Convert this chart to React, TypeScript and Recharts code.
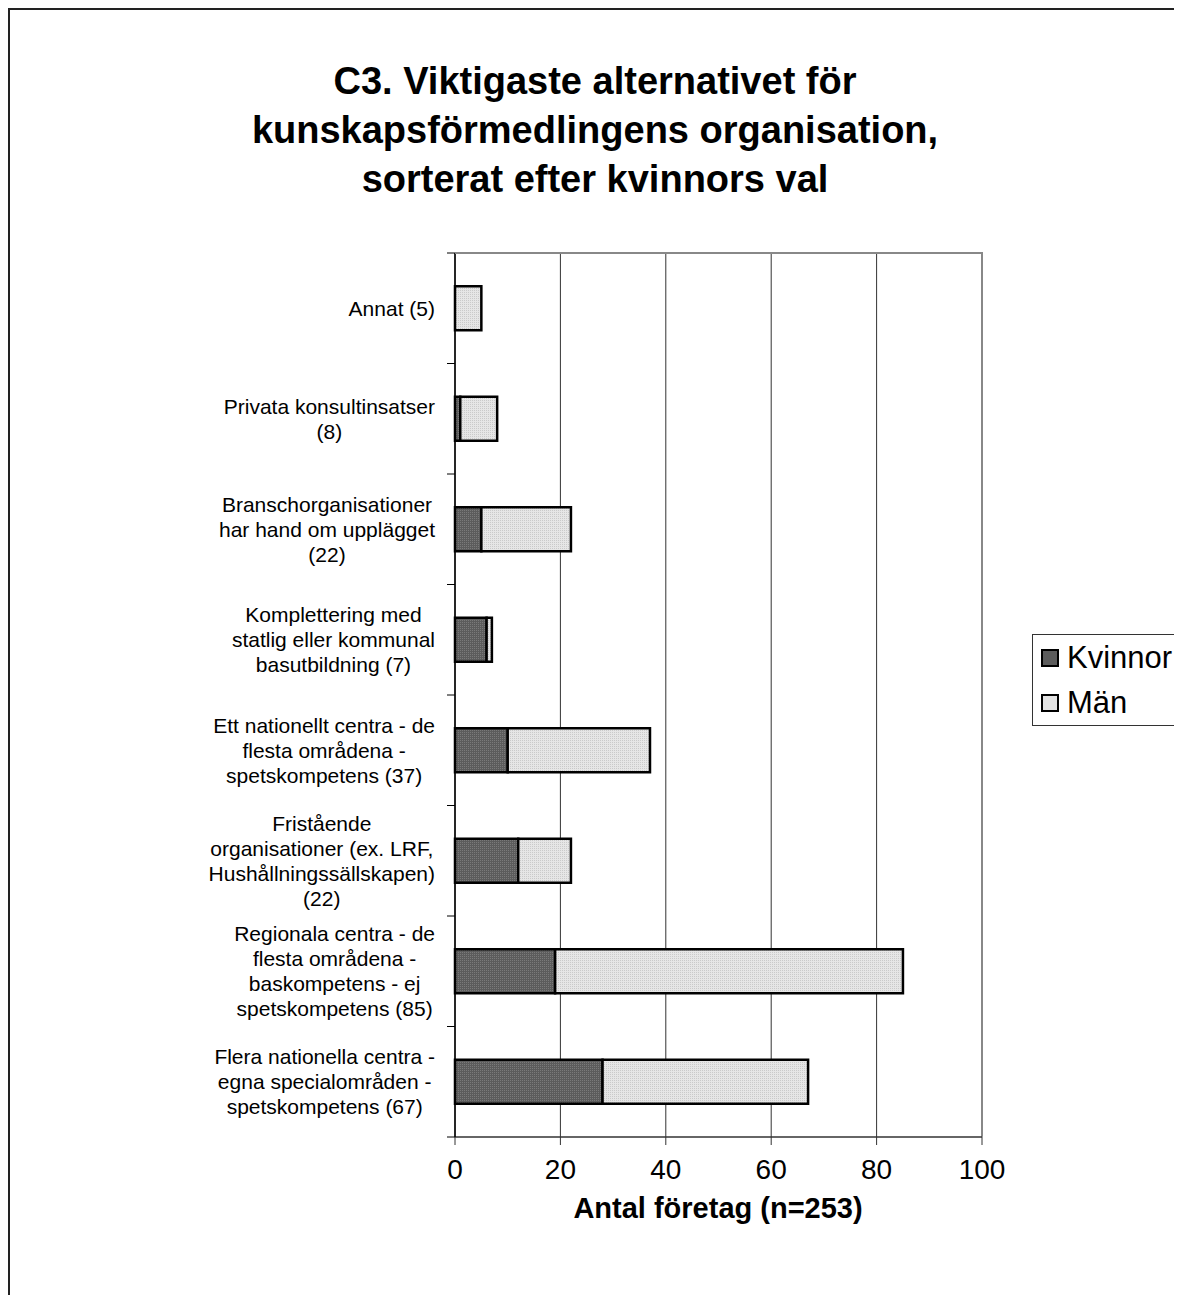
import { BarChart, Bar, XAxis, YAxis, CartesianGrid } from 'recharts'

const categories = [
  'Annat (5)',
  'Privata konsultinsatser\n(8)',
  'Branschorganisationer\nhar hand om upplägget\n(22)',
  'Komplettering med\nstatlig eller kommunal\nbasutbildning (7)',
  'Ett nationellt centra - de\nflesta områdena -\nspetskompetens (37)',
  'Fristående\norganisationer (ex. LRF,\nHushållningssällskapen)\n(22)',
  'Regionala centra - de\nflesta områdena -\nbaskompetens - ej\nspetskompetens (85)',
  'Flera nationella centra -\negna specialområden -\nspetskompetens (67)',
]
const kvinnor = [0, 1, 5, 6, 10, 12, 19, 28]
const man = [5, 7, 17, 1, 27, 10, 66, 39]
const xTicks = [0, 20, 40, 60, 80, 100]

const data = categories.map((name, i) => ({ name, kvinnor: kvinnor[i], man: man[i] }))

const W = 1174
const H = 1295
const PLOT_LEFT = 447
const PLOT_TOP = 245
const PLOT_BOTTOM = 1129
const PLOT_RIGHT = 974
const BAND = (PLOT_BOTTOM - PLOT_TOP) / categories.length
const FONT = '"Liberation Sans", Arial, sans-serif'
const LABEL_SIZE = 21

let ctx: CanvasRenderingContext2D | null = null
function textWidth(s: string) {
  if (!ctx) {
    ctx = document.createElement('canvas').getContext('2d')
    if (ctx) ctx.font = `${LABEL_SIZE}px "Liberation Sans"`
  }
  return ctx ? ctx.measureText(s).width : s.length * LABEL_SIZE * 0.5
}

function CategoryTick(props: any) {
  const { x, y, payload, index } = props
  const lines: string[] = String(payload.value).split('\n')
  const maxW = Math.max(...lines.map(textWidth))
  const cx = x - 20 - maxW / 2
  const lh = 25
  const y0 = y - ((lines.length - 1) * lh) / 2
  return (
    <g>
      <line x1={x - 8} x2={x} y1={y + BAND / 2} y2={y + BAND / 2} stroke="#000" strokeWidth={1} />
      {index === 0 && <line x1={x - 8} x2={x} y1={y - BAND / 2} y2={y - BAND / 2} stroke="#000" strokeWidth={1} />}
      <text textAnchor="middle" fontSize={LABEL_SIZE} fontFamily={FONT} fill="#000">
        {lines.map((l, i) => (
          <tspan key={i} x={cx} y={y0 + i * lh} dy="0.35em">
            {l}
          </tspan>
        ))}
      </text>
    </g>
  )
}

export default function App() {
  return (
    <div style={{ position: 'relative', width: W, height: H, overflow: 'hidden', marginBottom: -8, fontFamily: FONT }}>
      <div
        style={{
          position: 'absolute',
          left: 0,
          top: 0,
          width: W + 100,
          height: H + 100,
          borderLeft: '2px solid #222',
          borderTop: '2px solid #222',
          boxSizing: 'border-box',
        }}
      />
      <div
        style={{
          position: 'absolute',
          left: 0,
          top: 49,
          width: W,
          textAlign: 'center',
          fontWeight: 'bold',
          fontSize: 38,
          lineHeight: '49px',
          color: '#000',
        }}
      >
        C3. Viktigaste alternativet för
        <br />
        kunskapsförmedlingens organisation,
        <br />
        sorterat efter kvinnors val
      </div>
      <BarChart
        width={W}
        height={H}
        data={data}
        layout="vertical"
        margin={{ top: PLOT_TOP, right: W - PLOT_RIGHT, bottom: H - PLOT_BOTTOM - 60, left: 0 }}
        barCategoryGap="30%"
        style={{ position: 'absolute', left: 0, top: 0 }}
      >
        <defs>
          <pattern id="darkFill" width="2" height="2" patternUnits="userSpaceOnUse">
            <rect width="2" height="2" fill="#5c5c5c" />
            <rect width="1" height="1" fill="#7a7a7a" />
          </pattern>
          <pattern id="lightFill" width="2" height="2" patternUnits="userSpaceOnUse">
            <rect width="2" height="2" fill="#e6e6e6" />
            <rect width="1" height="1" fill="#cacaca" />
          </pattern>
        </defs>
        <CartesianGrid horizontal={false} stroke="#333" strokeWidth={1} />
        <XAxis
          type="number"
          domain={[0, 100]}
          ticks={xTicks}
          height={60}
          tickSize={8}
          tickMargin={14}
          axisLine={{ stroke: '#333', strokeWidth: 1.5 }}
          tickLine={{ stroke: '#333' }}
          tick={{ fontSize: 28, fill: '#000', fontFamily: FONT }}
        />
        <YAxis
          type="category"
          dataKey="name"
          width={PLOT_LEFT}
          tickSize={0}
          tickMargin={0}
          tickLine={false}
          interval={0}
          axisLine={{ stroke: '#000', strokeWidth: 1.5 }}
          tick={<CategoryTick />}
        />
        <Bar dataKey="kvinnor" stackId="a" fill="url(#darkFill)" stroke="#000" strokeWidth={2.5} isAnimationActive={false} />
        <Bar dataKey="man" stackId="a" fill="url(#lightFill)" stroke="#000" strokeWidth={2.5} isAnimationActive={false} />
      </BarChart>
      <div
        style={{
          position: 'absolute',
          left: PLOT_LEFT,
          top: PLOT_TOP - 1,
          width: PLOT_RIGHT - PLOT_LEFT + 1,
          height: PLOT_BOTTOM - PLOT_TOP,
          borderTop: '2px solid #888',
          borderRight: '2px solid #888',
          boxSizing: 'border-box',
          pointerEvents: 'none',
        }}
      />
      <div
        style={{
          position: 'absolute',
          left: 710 - 250,
          top: 1184,
          width: 500,
          textAlign: 'center',
          fontWeight: 'bold',
          fontSize: 29,
          color: '#000',
        }}
      >
        Antal företag (n=253)
      </div>
      <div
        style={{
          position: 'absolute',
          left: 1024,
          top: 626,
          width: 200,
          height: 92,
          border: '1px solid #333',
          boxSizing: 'border-box',
          fontSize: 31,
          color: '#000',
          padding: '0 0 0 8px',
        }}
      >
        {[
          { name: 'Kvinnor', fill: '#5c5c5c' },
          { name: 'Män', fill: '#e2e2e2' },
        ].map((it) => (
          <div key={it.name} style={{ display: 'flex', alignItems: 'center', height: 45 }}>
            <span style={{ display: 'inline-block', width: 14, height: 14, background: it.fill, border: '2px solid #000', marginRight: 8 }} />
            {it.name}
          </div>
        ))}
      </div>
    </div>
  )
}
